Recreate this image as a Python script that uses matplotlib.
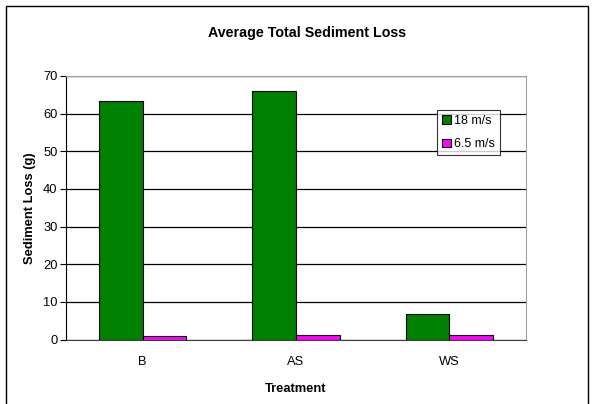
import matplotlib
matplotlib.use('Agg')
from matplotlib import pyplot as plt
from matplotlib.patches import Rectangle
import numpy as np

treatments = ['B', 'AS', 'WS']
loss_18 = [63.4, 65.9, 6.8]
loss_65 = [0.85, 1.1, 1.1]
series_labels = ['18 m/s', '6.5 m/s']

plt.rcParams['font.family'] = ['Liberation Sans', 'DejaVu Sans']

W, H = 595, 404
fig = plt.figure(figsize=(W / 100, H / 100), dpi=100)

# outer chart border
fig.patches.append(Rectangle((6 / W, -0.01), (588 - 6) / W, 1 - 6 / H + 0.01,
                             transform=fig.transFigure, fill=False,
                             edgecolor='black', linewidth=1.0))

ax = fig.add_axes([66 / W, 1 - 339.5 / H, (526 - 66) / W, (339.5 - 76) / H])

x = np.arange(len(treatments))
width = 0.2857
ax.bar(x - width / 2, loss_18, width, color='#008000', edgecolor='black',
       linewidth=0.8, label=series_labels[0], zorder=3)
ax.bar(x + width / 2, loss_65, width, color='#FF00FF', edgecolor='black',
       linewidth=0.8, label=series_labels[1], zorder=3)

ax.set_xlim(-0.5, len(treatments) - 0.5)
ax.set_ylim(0, 70)
ax.set_yticks(range(0, 71, 10))
ax.set_xticks(x)
ax.set_xticklabels(treatments)
ax.yaxis.grid(True, color='black', linewidth=0.9, zorder=0)
ax.set_axisbelow(True)

ax.tick_params(axis='y', length=4, width=0.8, labelsize=9.3, pad=2)
ax.tick_params(axis='x', length=0, labelsize=9.3, pad=12)
ax.spines['left'].set_color('black')
ax.spines['bottom'].set_color('#404040')
ax.spines['top'].set_color('#A0A0A0')
ax.spines['right'].set_color('#A0A0A0')

fig.text(307 / W, 1 - 33 / H, 'Average Total Sediment Loss', fontsize=10.3,
         fontweight='bold', ha='center', va='center')
ax.set_xlabel('Treatment', fontsize=9.3, fontweight='bold', labelpad=11)
ax.set_ylabel('Sediment Loss (g)', fontsize=9.3, fontweight='bold', labelpad=5)

leg = ax.legend(loc='upper left', bbox_to_anchor=((437 - 66) / (526 - 66), (339.5 - 110) / (339.5 - 76)),
                fontsize=9, frameon=True, fancybox=False, edgecolor='black',
                handlelength=0.7, handleheight=0.7, handletextpad=0.3,
                borderpad=0.4, labelspacing=0.9, borderaxespad=0)
leg.get_frame().set_linewidth(0.8)

fig.savefig('out.png', dpi=100)
